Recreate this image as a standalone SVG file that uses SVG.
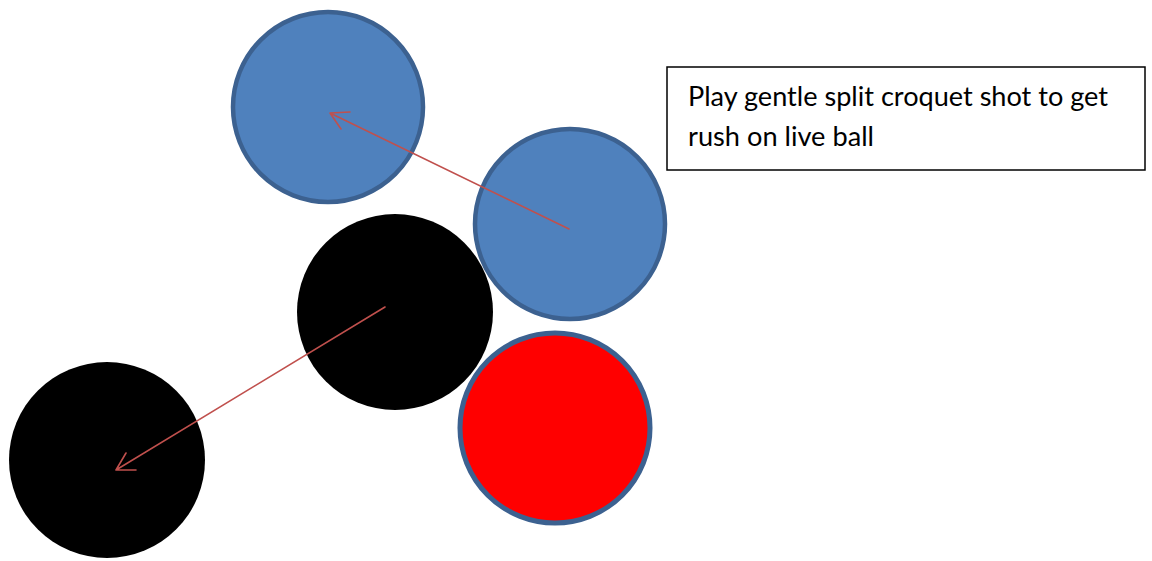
<svg xmlns="http://www.w3.org/2000/svg" width="1152" height="561" viewBox="0 0 1152 561">
<style>
.blue{fill:#4F81BD;stroke:#3C6190;stroke-width:4.5}
.black{fill:#000}
.red{fill:#FF0000;stroke:#3C6190;stroke-width:5}
.arrow{fill:none;stroke:#C0504D;stroke-width:1.6;stroke-linecap:round;stroke-linejoin:round}
.lbl{font-family:Lato,"Open Sans","Liberation Sans",sans-serif;font-size:27px;fill:#000}
</style>
<rect width="1152" height="561" fill="#fff"/>
<g id="ball-blue-top"><circle class="blue" cx="328" cy="107" r="95"/></g>
<g id="ball-black-center"><circle class="black" cx="395" cy="312" r="98"/></g>
<g id="ball-black-left"><circle class="black" cx="107" cy="460" r="98"/></g>
<g id="ball-blue-right"><circle class="blue" cx="570" cy="224" r="95"/></g>
<g id="ball-red"><circle class="red" cx="555" cy="428" r="95"/></g>
<g id="connectors">
<path class="arrow" d="M569 229 L330 113 M350 112 L330 113 L341 129"/>
<path class="arrow" d="M385 307 L116 470 M136 470 L116 470 L126 453"/>
</g>
<g id="note">
<rect x="667" y="67" width="478" height="103" fill="#fff" stroke="#000" stroke-width="1.5"/>
<text class="lbl" x="688" y="106" textLength="420" lengthAdjust="spacingAndGlyphs">Play gentle split croquet shot to get</text>
<text class="lbl" x="688" y="146" textLength="186" lengthAdjust="spacingAndGlyphs">rush on live ball</text>
</g>
</svg>
